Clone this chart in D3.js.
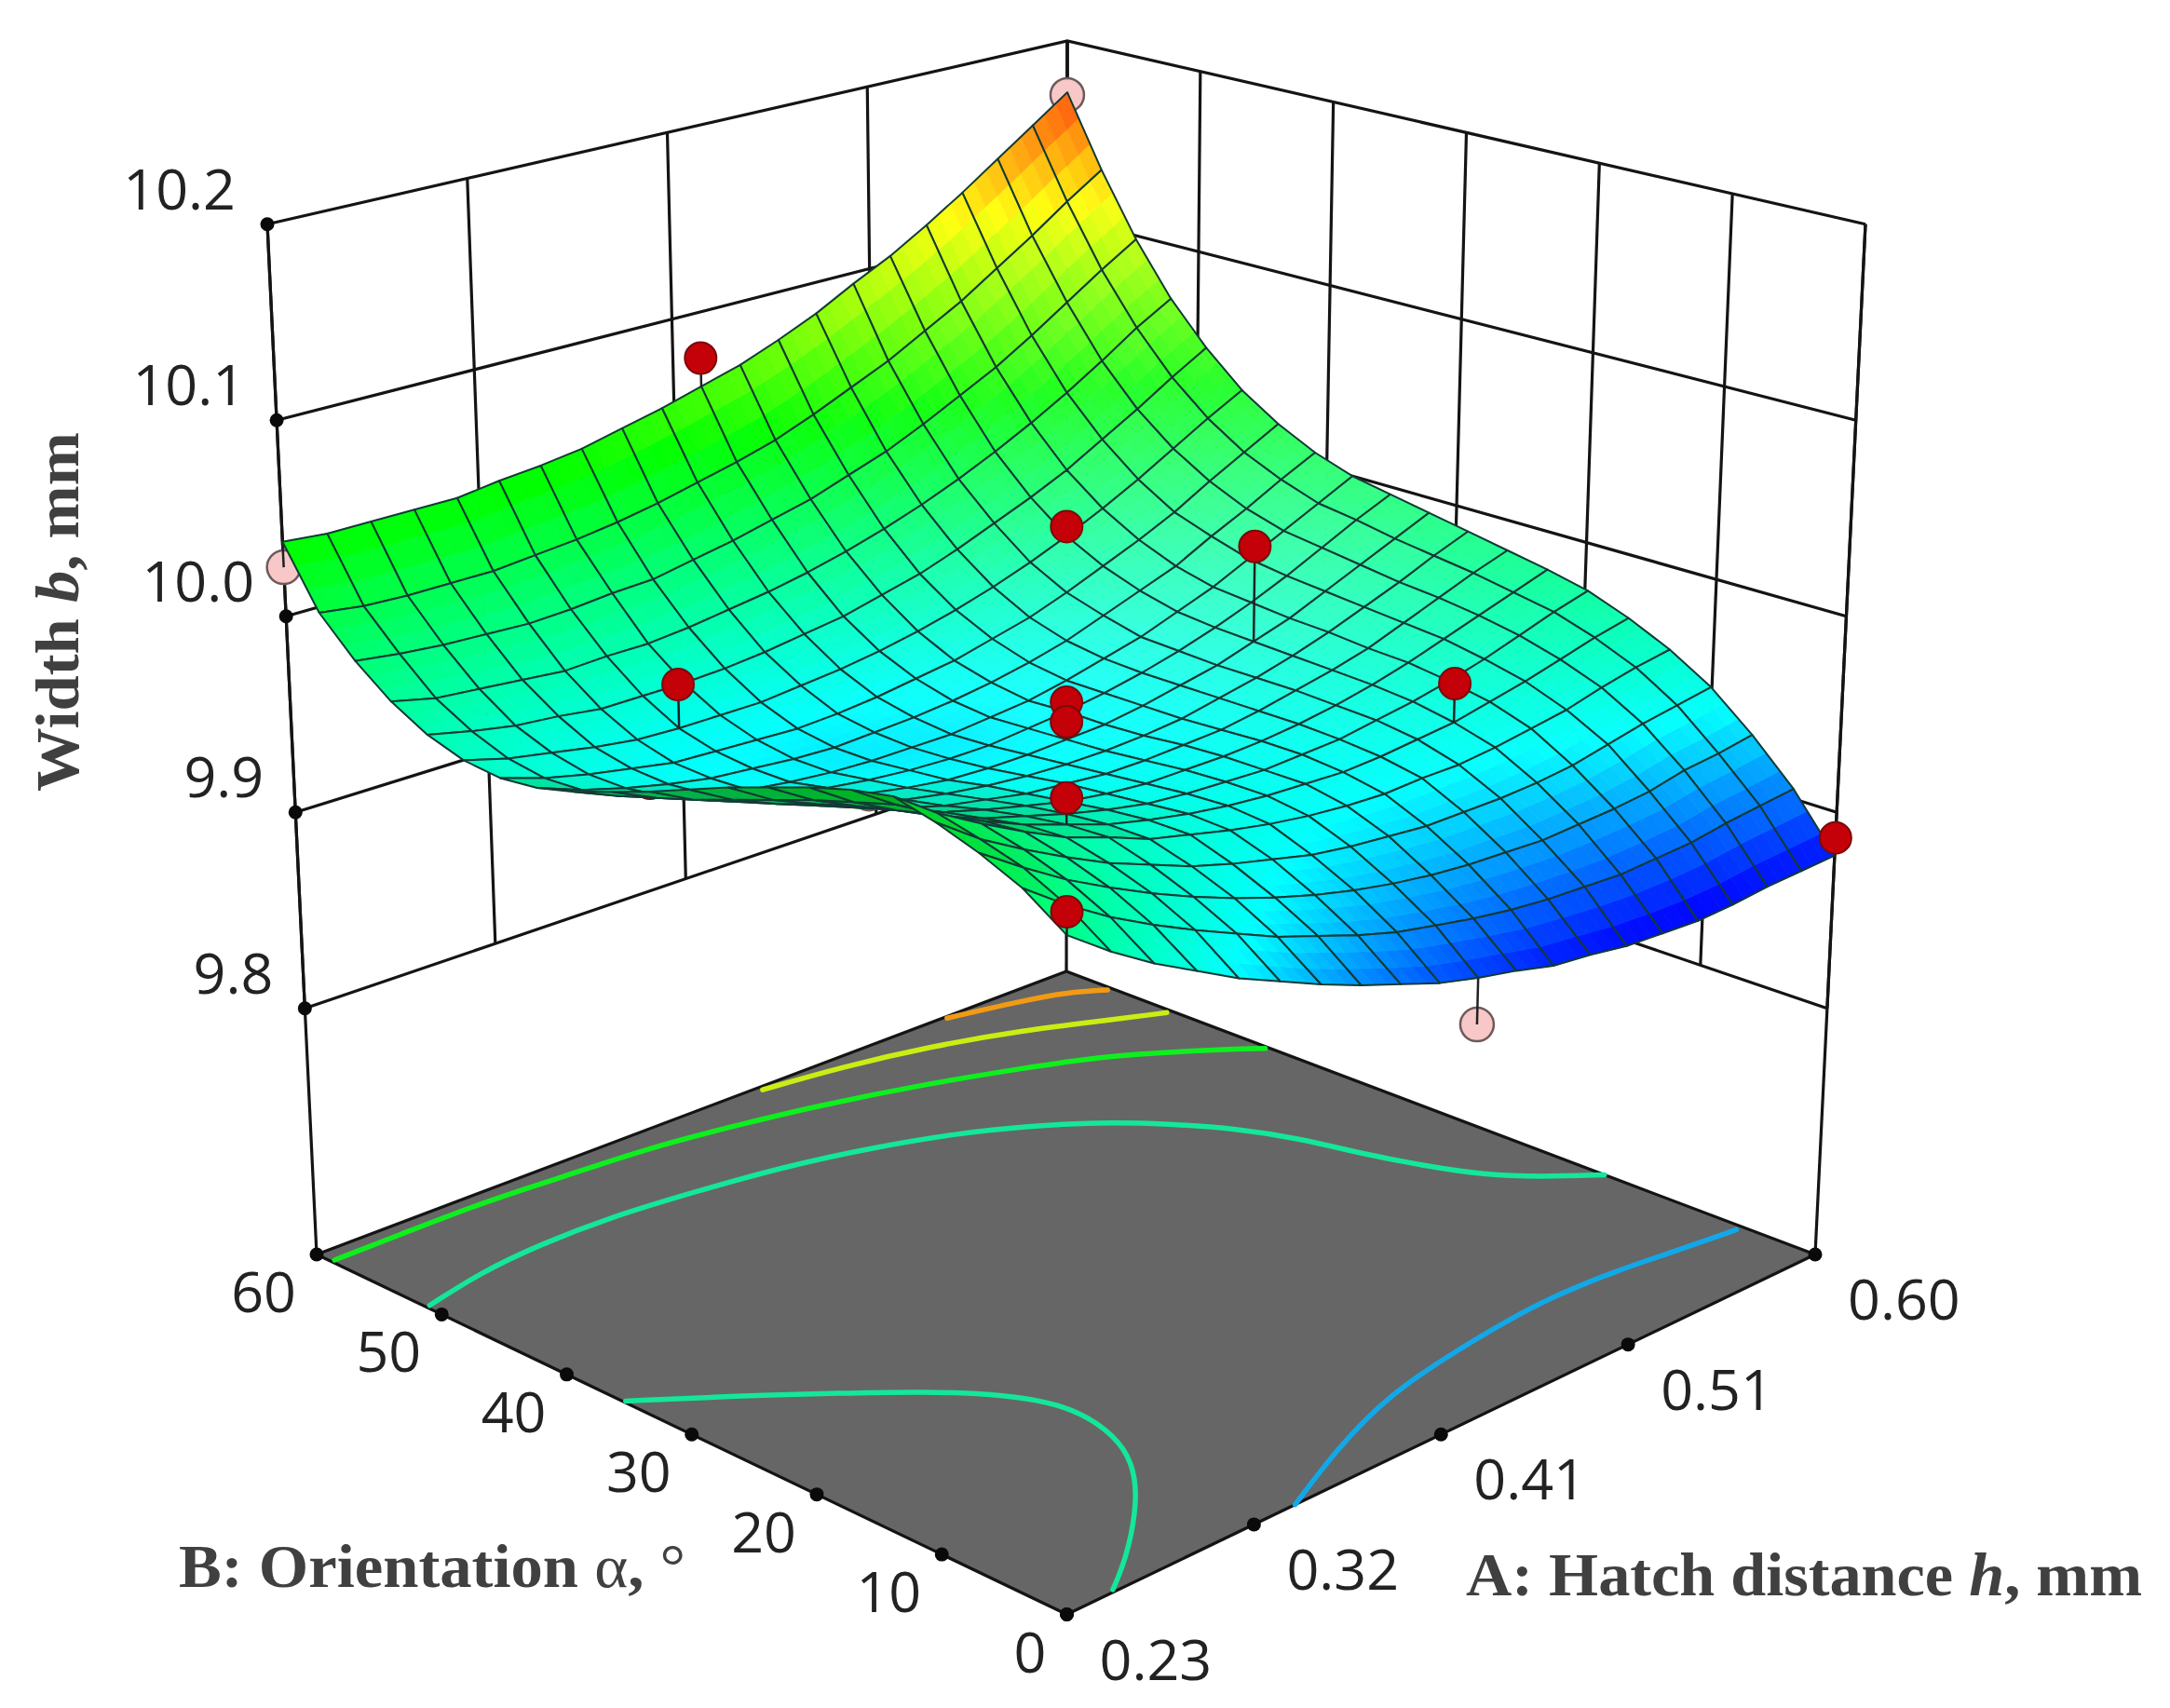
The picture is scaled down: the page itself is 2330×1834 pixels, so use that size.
<!DOCTYPE html>
<html>
<head>
<meta charset="utf-8">
<script src="https://cdn.jsdelivr.net/npm/d3@7"></script>
<style>
  body { margin: 0; background: #fff; }
  svg { display: block; }
</style>
</head>
<body>
<div id="chart"></div>
<script>
// --- Datas
const hatchLevels = [0.23, 0.2485, 0.267, 0.2855, 0.304, 0.3225, 0.341, 0.3595, 0.378, 0.3965, 0.415, 0.4335, 0.452, 0.4705, 0.489, 0.5075, 0.526, 0.5445, 0.563, 0.5815, 0.60];
const alphaLevels = [0, 3, 6, 9, 12, 15, 18, 21, 24, 27, 30, 33, 36, 39, 42, 45, 48, 51, 54, 57, 60];

// one row per orientation level, one column per hatch level
const widthGrid = [
  [9.984, 9.969, 9.956, 9.945, 9.934, 9.925, 9.916, 9.908, 9.901, 9.894, 9.889, 9.885, 9.880, 9.878, 9.875, 9.874, 9.873, 9.874, 9.876, 9.877, 9.878],
  [9.998, 9.983, 9.970, 9.959, 9.949, 9.940, 9.931, 9.924, 9.917, 9.911, 9.907, 9.903, 9.900, 9.898, 9.897, 9.896, 9.897, 9.898, 9.901, 9.903, 9.905],
  [10.007, 9.993, 9.980, 9.969, 9.959, 9.950, 9.942, 9.935, 9.929, 9.924, 9.920, 9.917, 9.915, 9.914, 9.913, 9.914, 9.915, 9.917, 9.921, 9.923, 9.926],
  [10.014, 9.999, 9.987, 9.976, 9.966, 9.958, 9.950, 9.944, 9.939, 9.934, 9.931, 9.929, 9.927, 9.927, 9.927, 9.928, 9.930, 9.934, 9.938, 9.941, 9.944],
  [10.019, 10.004, 9.992, 9.981, 9.971, 9.964, 9.956, 9.951, 9.946, 9.942, 9.939, 9.937, 9.936, 9.937, 9.937, 9.939, 9.942, 9.945, 9.950, 9.954, 9.957],
  [10.015, 10.001, 9.989, 9.979, 9.970, 9.963, 9.956, 9.951, 9.947, 9.944, 9.942, 9.941, 9.940, 9.941, 9.943, 9.945, 9.949, 9.953, 9.958, 9.963, 9.967],
  [10.009, 9.995, 9.984, 9.974, 9.966, 9.960, 9.954, 9.949, 9.945, 9.943, 9.942, 9.941, 9.942, 9.943, 9.946, 9.949, 9.953, 9.958, 9.964, 9.970, 9.975],
  [10.002, 9.989, 9.979, 9.970, 9.962, 9.956, 9.951, 9.946, 9.943, 9.941, 9.941, 9.941, 9.942, 9.944, 9.947, 9.951, 9.956, 9.962, 9.968, 9.974, 9.980],
  [9.995, 9.982, 9.973, 9.964, 9.957, 9.951, 9.947, 9.943, 9.941, 9.939, 9.939, 9.940, 9.941, 9.944, 9.948, 9.952, 9.957, 9.964, 9.971, 9.978, 9.984],
  [9.987, 9.975, 9.966, 9.958, 9.952, 9.947, 9.943, 9.940, 9.938, 9.937, 9.937, 9.938, 9.940, 9.944, 9.948, 9.953, 9.959, 9.966, 9.973, 9.981, 9.988],
  [9.979, 9.968, 9.960, 9.953, 9.947, 9.943, 9.939, 9.936, 9.935, 9.935, 9.936, 9.937, 9.940, 9.944, 9.948, 9.954, 9.960, 9.968, 9.976, 9.984, 9.992],
  [9.972, 9.962, 9.954, 9.948, 9.942, 9.939, 9.936, 9.934, 9.933, 9.933, 9.935, 9.937, 9.940, 9.944, 9.949, 9.955, 9.962, 9.970, 9.979, 9.988, 9.996],
  [9.965, 9.956, 9.949, 9.943, 9.938, 9.935, 9.933, 9.932, 9.932, 9.932, 9.934, 9.936, 9.940, 9.945, 9.950, 9.957, 9.964, 9.973, 9.982, 9.991, 10.000],
  [9.960, 9.952, 9.946, 9.941, 9.937, 9.935, 9.933, 9.932, 9.933, 9.934, 9.936, 9.939, 9.943, 9.948, 9.955, 9.962, 9.969, 9.979, 9.988, 9.998, 10.007],
  [9.958, 9.951, 9.946, 9.942, 9.938, 9.937, 9.936, 9.935, 9.936, 9.938, 9.941, 9.944, 9.949, 9.954, 9.961, 9.969, 9.977, 9.986, 9.997, 10.007, 10.017],
  [9.960, 9.954, 9.950, 9.946, 9.943, 9.942, 9.942, 9.942, 9.944, 9.946, 9.949, 9.953, 9.958, 9.964, 9.971, 9.979, 9.988, 9.998, 10.009, 10.020, 10.030],
  [9.966, 9.961, 9.957, 9.955, 9.952, 9.952, 9.952, 9.953, 9.955, 9.958, 9.961, 9.966, 9.971, 9.978, 9.986, 9.994, 10.003, 10.014, 10.025, 10.037, 10.048],
  [9.976, 9.971, 9.969, 9.967, 9.965, 9.966, 9.966, 9.968, 9.971, 9.974, 9.978, 9.983, 9.989, 9.996, 10.004, 10.013, 10.023, 10.034, 10.046, 10.059, 10.070],
  [9.990, 9.987, 9.985, 9.984, 9.983, 9.984, 9.986, 9.987, 9.991, 9.995, 10.000, 10.005, 10.012, 10.019, 10.028, 10.038, 10.048, 10.060, 10.073, 10.086, 10.098],
  [10.008, 10.005, 10.004, 10.004, 10.004, 10.006, 10.008, 10.011, 10.015, 10.020, 10.025, 10.031, 10.039, 10.048, 10.057, 10.068, 10.079, 10.092, 10.105, 10.119, 10.132],
  [10.038, 10.036, 10.036, 10.036, 10.036, 10.039, 10.041, 10.044, 10.049, 10.054, 10.060, 10.066, 10.074, 10.083, 10.094, 10.104, 10.116, 10.129, 10.143, 10.157, 10.171]
];

const hatchTicks = [0.23, 0.3225, 0.415, 0.5075, 0.60];
const hatchLabels = ['0.23', '0.32', '0.41', '0.51', '0.60'];
const alphaTicks = [0, 10, 20, 30, 40, 50, 60];
const widthTicks = [9.8, 9.9, 10.0, 10.1, 10.2];

// design points above the surface
const redHatch = [0.415, 0.5075, 0.5075, 0.5075, 0.3225, 0.415, 0.415, 0.3225, 0.23, 0.60];
const redAlpha = [60, 45, 30, 15, 45, 30, 30, 15, 0, 0];
const redWidth = [10.0752, 9.9842, 10.0039, 9.9649, 9.9644, 9.9551, 9.9451, 9.9759, 9.9946, 9.887];
// design points below it
const pinkHatch = [0.23, 0.23, 0.60, 0.415];
const pinkAlpha = [13.7, 60, 60, 0];
const pinkWidth = [10.0162, 10.025, 10.1695, 9.8665];
// one red point that the surface covers almost entirely
const hiddenHatch = [0.23];
const hiddenAlpha = [30];
const hiddenWidth = [9.9831];

// floor contours as [hatch share, orientation share] of the axis ranges
const contourBlue = [[0.305,0],[0.4159,0.0533],[0.5254,0.0945],[0.621,0.1117],[0.7112,0.1235],[0.7825,0.127],[0.8547,0.1215],[0.9288,0.1073],[0.9922,0.0974]];
const contourTealFront = [[0.0025,0.5906],[0.0811,0.5341],[0.1679,0.4637],[0.2241,0.4152],[0.2769,0.3547],[0.2976,0.3057],[0.2959,0.2518],[0.2756,0.1967],[0.2408,0.1483],[0.1904,0.0978],[0.116,0.0371],[0.0652,0.0037]];
const contourTealBack = [[0.0049,0.8543],[0.092,0.874],[0.179,0.8817],[0.2738,0.8816],[0.3732,0.8696],[0.4763,0.8538],[0.5699,0.8282],[0.6549,0.7942],[0.7069,0.7635],[0.7629,0.7225],[0.8084,0.6698],[0.8437,0.6174],[0.869,0.5558],[0.8827,0.4911],[0.9035,0.4242],[0.9254,0.3683],[0.9585,0.3231],[1.0,0.2815]];
const contourGreen = [[0.0047,0.9808],[0.0888,0.9816],[0.2013,0.9832],[0.304,0.9751],[0.4094,0.9692],[0.5037,0.9527],[0.5956,0.9335],[0.7174,0.8967],[0.8042,0.8608],[0.8722,0.8318],[0.9453,0.778],[0.9969,0.7313]];
const contourYellow = [[0.5887,0.9938],[0.6835,0.9815],[0.7794,0.9585],[0.8667,0.927],[0.9445,0.8856],[0.9943,0.8601]];
const contourOrange = [[0.8379,0.9971],[0.9177,0.978],[0.9651,0.962],[0.9948,0.9398]];
const contourLevels = [
  { color: '#12a8e8', points: contourBlue },
  { color: '#14e79a', points: contourTealFront },
  { color: '#14e79a', points: contourTealBack },
  { color: '#0ef01e', points: contourGreen },
  { color: '#c8ee14', points: contourYellow },
  { color: '#f29a14', points: contourOrange }
];

// --- Box corners on the page
const floorCorners = { f: [1145.5, 1733.5], r: [1949, 1347], l: [340, 1347], b: [1145, 1043] };
const topCorners = { f: [1145.5, 495], r: [2003, 240.7], l: [287, 240.7], b: [1146, 44] };
const floorWidth = 9.6745;

const hatchScale = d3.scaleLinear().domain([0.23, 0.60]).range([0, 1]);
const alphaScale = d3.scaleLinear().domain([0, 60]).range([0, 1]);
const heightScale = d3.scaleLinear().domain([floorWidth, 10.2]).range([0, 1]);
const colorScale = d3.scaleLinear()
  .domain([9.875, 9.936, 10.035, 10.117, 10.19])
  .range(['#0000ff', '#00ffff', '#00ff00', '#ffff00', '#ff0000'])
  .clamp(true);

function bilinear(c, a, b, k) {
  return (1-a)*(1-b)*c.f[k] + a*(1-b)*c.r[k] + (1-a)*b*c.l[k] + a*b*c.b[k];
}
function boxPoint(a, b, t) {
  return [0, 1].map(k => bilinear(floorCorners, a, b, k) * (1-t) + bilinear(topCorners, a, b, k) * t);
}
function project(h, alpha, w) {
  return boxPoint(hatchScale(h), alphaScale(alpha), heightScale(w));
}
// the surface sits slightly further back along both axes than the evenly spaced walls
const squeeze = s => s + 0.14 * s * (1 - s);
function projectSurface(h, alpha, w) {
  return boxPoint(squeeze(hatchScale(h)), squeeze(alphaScale(alpha)), heightScale(w));
}
function cellWidth(i, j, s, r) {
  return (1-s)*(1-r)*widthGrid[j][i] + s*(1-r)*widthGrid[j][i+1] + (1-s)*r*widthGrid[j+1][i] + s*r*widthGrid[j+1][i+1];
}
function surfaceAt(h, alpha) {
  const u = hatchScale(h) * 20, v = alphaScale(alpha) * 20;
  const i = Math.min(19, Math.floor(u)), j = Math.min(19, Math.floor(v));
  return cellWidth(i, j, u - i, v - j);
}

const svg = d3.select('#chart').append('svg').attr('width', 2330).attr('height', 1834);
const line = d3.line();
const boxColor = '#141414';

// --- Walls
const walls = svg.append('g').attr('fill', 'none').attr('stroke', boxColor).attr('stroke-width', 3.2);
widthTicks.forEach(w => {
  walls.append('path').attr('d', line([project(0.23, 60, w), project(0.60, 60, w), project(0.60, 0, w)]));
});
hatchTicks.forEach(h => {
  walls.append('path').attr('d', line([project(h, 60, 9.8), project(h, 60, 10.2)]));
});
alphaTicks.forEach(al => {
  walls.append('path').attr('d', line([project(0.60, al, 9.8), project(0.60, al, 10.2)]));
});
walls.append('path').attr('d', line([project(0.23, 60, floorWidth), project(0.23, 60, 10.2)]));
walls.append('path').attr('d', line([project(0.60, 60, floorWidth), project(0.60, 60, 10.2)]));
walls.append('path').attr('d', line([project(0.60, 0, floorWidth), project(0.60, 0, 10.2)]));

// --- Floor and its contours
svg.append('path')
  .attr('d', line([project(0.23, 0, floorWidth), project(0.60, 0, floorWidth), project(0.60, 60, floorWidth), project(0.23, 60, floorWidth)]) + 'Z')
  .attr('fill', '#666666').attr('stroke', boxColor).attr('stroke-width', 3.2).attr('stroke-linejoin', 'round');

const contourPath = d3.line().curve(d3.curveBasis);
svg.append('g').attr('fill', 'none').attr('stroke-width', 5.5).attr('stroke-linecap', 'round')
  .selectAll('path').data(contourLevels).join('path')
  .attr('stroke', d => d.color)
  .attr('d', d => contourPath(d.points.map(p => boxPoint(p[0], p[1], 0))));

// --- Tick dots and labels
const dots = [];
widthTicks.forEach(w => dots.push(project(0.23, 60, w)));
hatchTicks.forEach(h => dots.push(project(h, 0, floorWidth)));
alphaTicks.forEach(al => dots.push(project(0.23, al, floorWidth)));
svg.append('g').selectAll('circle').data(dots).join('circle')
  .attr('cx', d => d[0]).attr('cy', d => d[1]).attr('r', 7.5).attr('fill', '#0a0a0a');

const labels = svg.append('g').attr('font-family', '"Open Sans", "Noto Sans", sans-serif').attr('font-size', 61).attr('fill', '#222');
widthTicks.forEach(w => {
  const p = project(0.23, 60, w);
  labels.append('text').attr('x', p[0] - 34).attr('y', p[1] - 16).attr('text-anchor', 'end').text(w.toFixed(1));
});
alphaTicks.forEach(al => {
  const p = project(0.23, al, floorWidth);
  labels.append('text').attr('x', p[0] - 22).attr('y', p[1] + 62).attr('text-anchor', 'end').text(al);
});
hatchTicks.forEach((h, i) => {
  const p = project(h, 0, floorWidth);
  labels.append('text').attr('x', p[0] + 35).attr('y', p[1] + 70).text(hatchLabels[i]);
});

// --- Design points under the surface
function stemLine(h, al, w) {
  return line([projectSurface(h, al, w), projectSurface(h, al, surfaceAt(h, al))]);
}
const under = svg.append('g');
hiddenHatch.forEach((h, i) => {
  const p = projectSurface(h, hiddenAlpha[i], hiddenWidth[i]);
  under.append('circle').attr('cx', p[0]).attr('cy', p[1]).attr('r', 17).attr('fill', '#c40008').attr('stroke', '#7a0a0a').attr('stroke-width', 2);
});
pinkHatch.forEach((h, i) => {
  const p = projectSurface(h, pinkAlpha[i], pinkWidth[i]);
  under.append('circle').attr('cx', p[0]).attr('cy', p[1]).attr('r', 18).attr('fill', '#f8c8c8').attr('stroke', '#6e5a5a').attr('stroke-width', 2.5);
  under.append('path').attr('d', stemLine(h, pinkAlpha[i], pinkWidth[i])).attr('stroke', '#222').attr('stroke-width', 2.5);
});

// --- Surface, back corner first
const cells = [];
for (let j = 0; j < 20; j++) for (let i = 0; i < 20; i++) cells.push({ i, j });
cells.sort((p, q) => (q.i + q.j) - (p.i + p.j));

// darker where the surface turns away from the viewer
function shade(c) {
  const z00 = widthGrid[c.j][c.i], z10 = widthGrid[c.j][c.i+1], z01 = widthGrid[c.j+1][c.i], z11 = widthGrid[c.j+1][c.i+1];
  const unit = 1 / (heightScale.domain()[1] - heightScale.domain()[0]) * 1.077 * 20;
  const da = ((z10 - z00) + (z11 - z01)) / 2 * unit;
  const db = ((z01 - z00) + (z11 - z10)) / 2 * unit;
  const nv = (0.639 * (da + db) + 0.429) / Math.hypot(da, db, 1);
  return 0.7 + 0.3 * Math.min(1, Math.max(0, nv / 0.3));
}
// soft highlight on the right hand slope
function glare(a, b) {
  return 0.25 * Math.exp(-((a - 0.85) * (a - 0.85) + (b - 0.62) * (b - 0.62)) / 0.1);
}

const surface = svg.append('g');
const subSteps = 3;
cells.forEach(c => {
  const f = shade(c);
  const m = glare((c.i + 0.5) / 20, (c.j + 0.5) / 20);
  const dh = hatchLevels[c.i + 1] - hatchLevels[c.i];
  const da = alphaLevels[c.j + 1] - alphaLevels[c.j];
  const corner = (s, r) => {
    const w = cellWidth(c.i, c.j, s, r);
    return { w, p: projectSurface(hatchLevels[c.i] + s * dh, alphaLevels[c.j] + r * da, w) };
  };
  for (let r = 0; r < subSteps; r++) for (let s = 0; s < subSteps; s++) {
    const q = [corner(s/subSteps, r/subSteps), corner((s+1)/subSteps, r/subSteps), corner((s+1)/subSteps, (r+1)/subSteps), corner(s/subSteps, (r+1)/subSteps)];
    const col = d3.rgb(colorScale(d3.mean(q, d => d.w)));
    const lit = v => (v + (255 - v) * m) * f;
    const fill = d3.rgb(lit(col.r), lit(col.g), lit(col.b) * f).formatHex();
    surface.append('path').attr('d', line(q.map(d => d.p)) + 'Z').attr('fill', fill).attr('stroke', fill).attr('stroke-width', 0.8);
  }
  const outline = [corner(0, 0), corner(1, 0), corner(1, 1), corner(0, 1)].map(d => d.p);
  surface.append('path').attr('d', line(outline) + 'Z').attr('fill', 'none').attr('stroke', '#123a34').attr('stroke-width', 2).attr('stroke-linejoin', 'round');
});

// --- Design points above the surface
const over = svg.append('g');
redHatch.forEach((h, i) => {
  over.append('path').attr('d', stemLine(h, redAlpha[i], redWidth[i])).attr('stroke', '#222').attr('stroke-width', 2.5);
  const p = projectSurface(h, redAlpha[i], redWidth[i]);
  over.append('circle').attr('cx', p[0]).attr('cy', p[1]).attr('r', 17).attr('fill', '#c40008').attr('stroke', '#7a0a0a').attr('stroke-width', 2);
});

// --- Axis titles
const titles = svg.append('g').attr('font-family', '"Liberation Serif", serif').attr('font-size', 66).attr('font-weight', 'bold').attr('fill', '#404040');
const title1 = titles.append('text').attr('x', 1574).attr('y', 1713).attr('textLength', 726).attr('lengthAdjust', 'spacingAndGlyphs');
title1.append('tspan').text('A: Hatch distance ');
title1.append('tspan').attr('font-style', 'italic').text('h');
title1.append('tspan').text(', mm');
const title2 = titles.append('text').attr('x', 192).attr('y', 1704).attr('textLength', 544).attr('lengthAdjust', 'spacingAndGlyphs');
title2.append('tspan').text('B: Orientation ');
title2.append('tspan').attr('font-weight', 'normal').text('α');
title2.append('tspan').text(', ');
title2.append('tspan').attr('font-weight', 'normal').text('°');
const title3 = titles.append('text').attr('transform', 'translate(84,850) rotate(-90)').attr('textLength', 386).attr('lengthAdjust', 'spacingAndGlyphs');
title3.append('tspan').text('Width ');
title3.append('tspan').attr('font-style', 'italic').text('b');
title3.append('tspan').text(', mm');
</script>
</body>
</html>
